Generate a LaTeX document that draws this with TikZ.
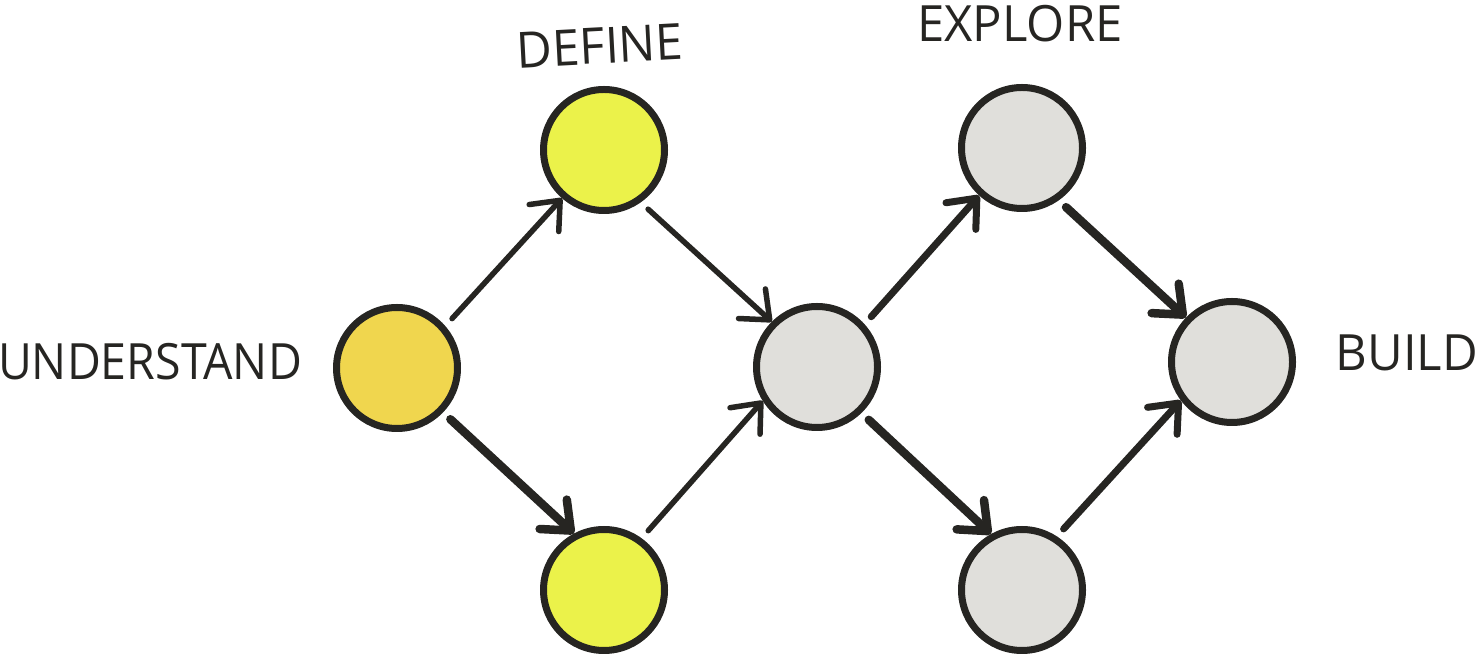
\documentclass[tikz,border=0pt]{standalone}
\usepackage{fontspec}
\setmainfont{Open Sans}
\usetikzlibrary{arrows.meta}
\definecolor{ink}{HTML}{262522}
\definecolor{amber}{HTML}{F0D64E}
\definecolor{lemon}{HTML}{EBF24A}
\definecolor{stone}{HTML}{E0DFDB}
\tikzset{
  dot/.style={circle, draw=ink, line width=7pt, minimum size=121pt, inner sep=0pt},
  lbl/.style={text=ink, font=\fontsize{50}{50}\selectfont, inner sep=0pt, anchor=center},
  link/.style={draw=ink, line cap=round, shorten <=10pt,
    -{Straight Barb[length=24pt, width=40pt, round]}},
  thinlink/.style={link, line width=5.5pt},
  midlink/.style={link, line width=7pt},
  thicklink/.style={link, line width=8.5pt},
}
\begin{document}
\begin{tikzpicture}[x=1pt,y=1pt]
\useasboundingbox (0,0) rectangle (1481,658);
% nodes (image y -> 658 - y)
\node[dot, fill=amber] (u)  at (397,290) {};
\node[dot, fill=lemon] (dt) at (604,508) {};
\node[dot, fill=lemon] (db) at (604,68) {};
\node[dot, fill=stone] (m)  at (817,291) {};
\node[dot, fill=stone] (et) at (1022,510) {};
\node[dot, fill=stone] (eb) at (1022,68) {};
\node[dot, fill=stone] (b)  at (1232,296) {};
% labels
\node[lbl] (lu) at (150,296) {\scalebox{0.93}[1]{UNDERSTAND}};
\node[lbl, rotate=3] (ld) at (600,612) {\scalebox{0.98}[1]{DEFINE}};
\node[lbl] (le) at (1020,634) {\scalebox{0.98}[1]{EXPLORE}};
\node[lbl] (lb) at (1407,305) {\scalebox{0.98}[1]{BUILD}};
% connectors
\draw[thinlink]  (u.41)   -- (dt.229);
\draw[thicklink] (u.-44)  -- (db.118);
\draw[thinlink]  (dt.-55) -- (m.135);
\draw[thinlink]  (db.54)  -- (m.212);
\draw[midlink]   (m.42)   -- (et.228);
\draw[thicklink] (m.-46)  -- (eb.119);
\draw[thicklink] (et.-55) -- (b.136);
\draw[midlink]   (eb.57)  -- (b.217);
\end{tikzpicture}
\end{document}
